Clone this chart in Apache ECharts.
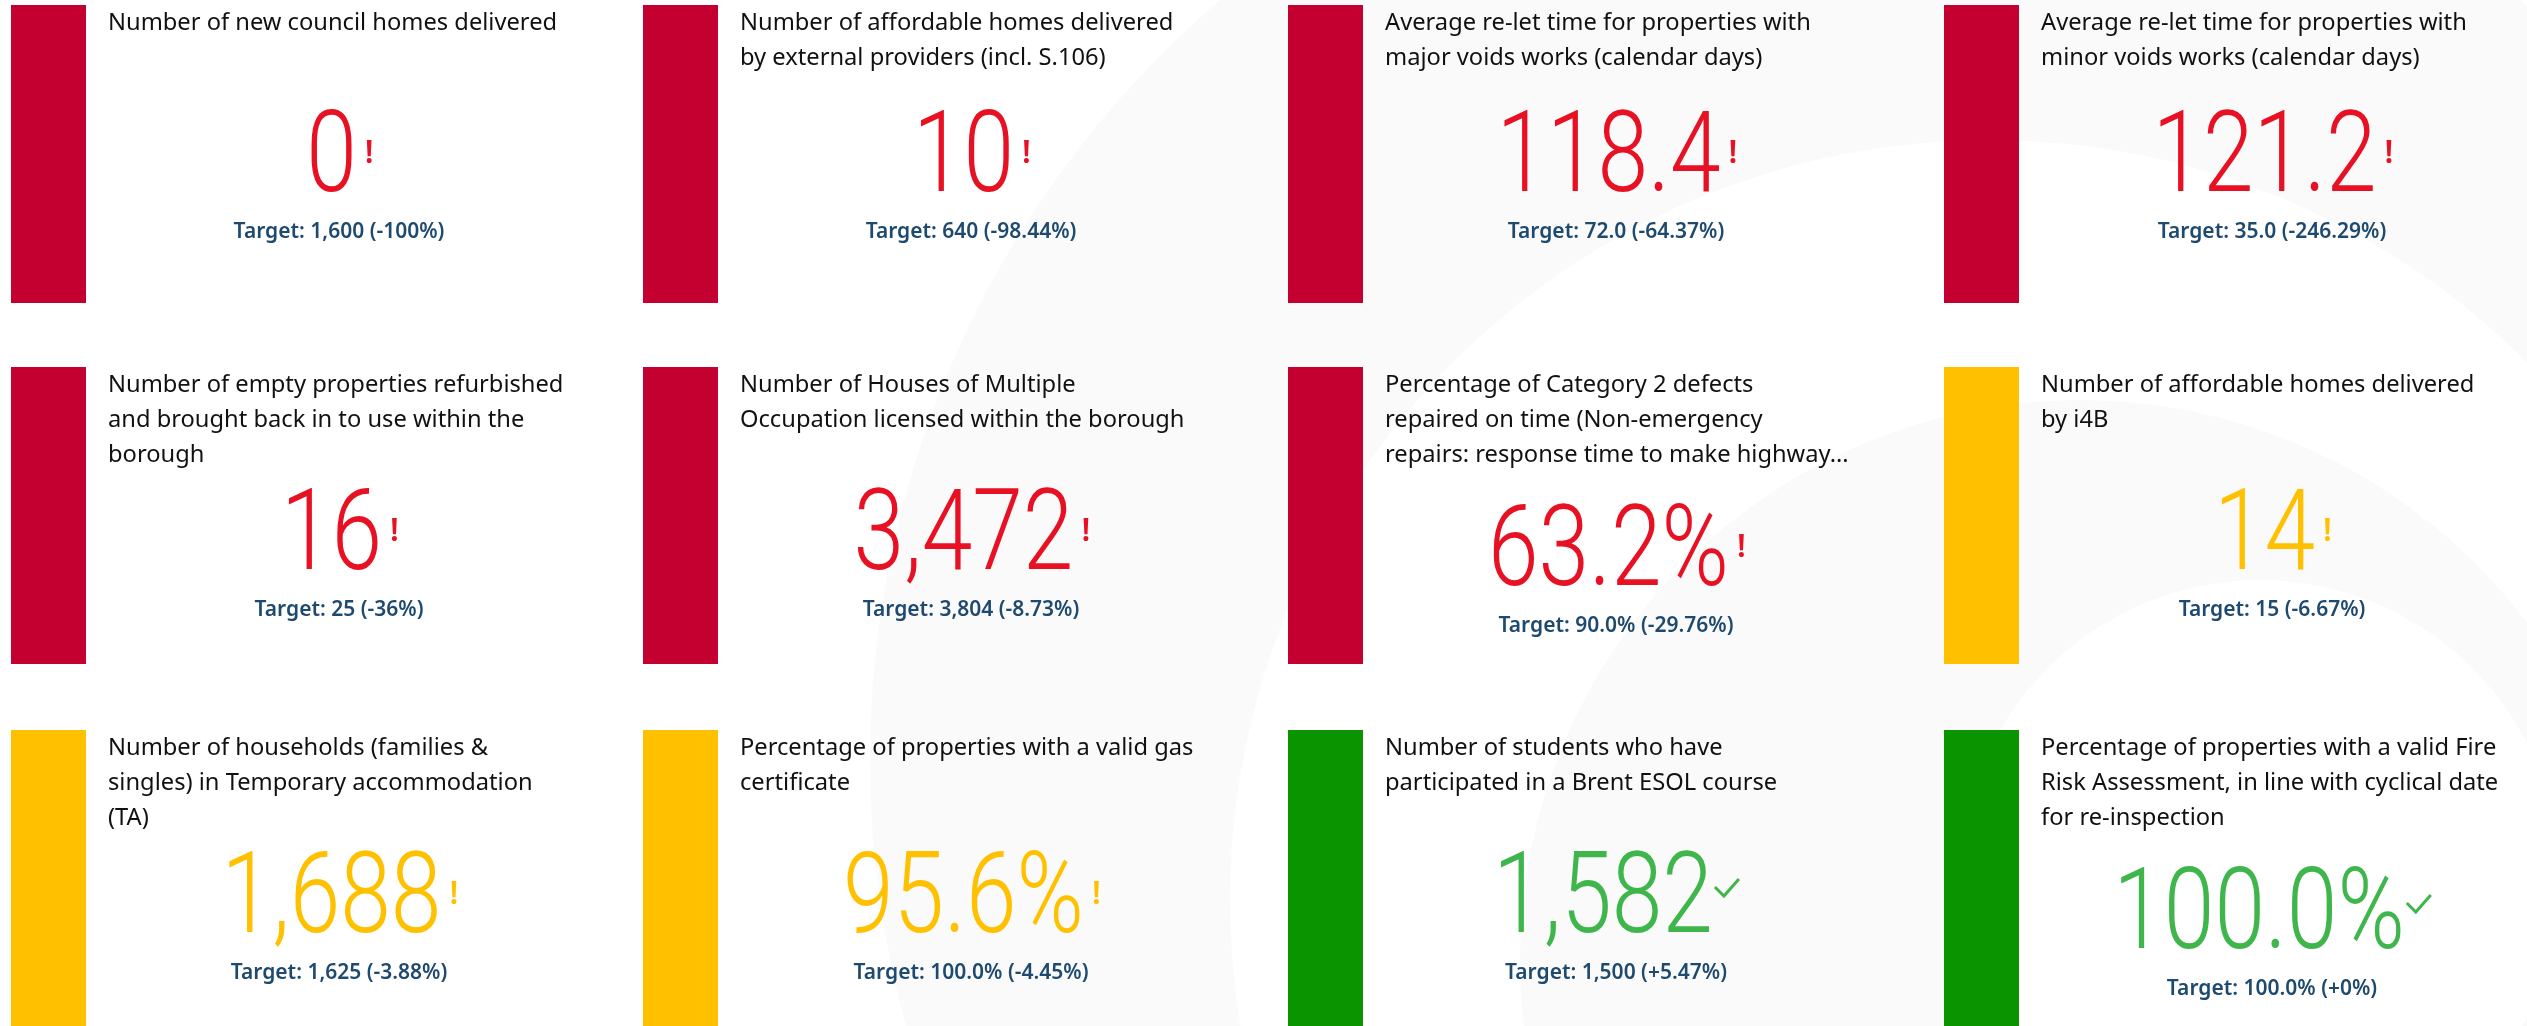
<!DOCTYPE html>
<html>
<head>
<meta charset="utf-8">
<script src="https://cdn.jsdelivr.net/npm/echarts@6/dist/echarts.min.js"></script>
<style>
  html, body { margin: 0; padding: 0; background: #fff; }
  #main { width: 2527px; height: 1026px; }
</style>
</head>
<body>
<div id="main"></div>
<script>
  // KPI cards, read left to right, top to bottom
  var titles = [
    'Number of new council homes delivered',
    'Number of affordable homes delivered\nby external providers (incl. S.106)',
    'Average re-let time for properties with\nmajor voids works (calendar days)',
    'Average re-let time for properties with\nminor voids works (calendar days)',
    'Number of empty properties refurbished\nand brought back in to use within the\nborough',
    'Number of Houses of Multiple\nOccupation licensed within the borough',
    'Percentage of Category 2 defects\nrepaired on time (Non-emergency\nrepairs: response time to make highway...',
    'Number of affordable homes delivered\nby i4B',
    'Number of households (families &\nsingles) in Temporary accommodation\n(TA)',
    'Percentage of properties with a valid gas\ncertificate',
    'Number of students who have\nparticipated in a Brent ESOL course',
    'Percentage of properties with a valid Fire\nRisk Assessment, in line with cyclical date\nfor re-inspection'
  ]
  var values = [0, 10, 118.4, 121.2, 16, 3472, 63.2, 14, 1688, 95.6, 1582, 100.0]
  var targetValues = [1600, 640, 72.0, 35.0, 25, 3804, 90.0, 15, 1625, 100.0, 1500, 100.0]
  var decimals = [0, 0, 1, 1, 0, 0, 1, 0, 0, 1, 0, 1]
  var units = ['', '', '', '', '', '', '%', '', '', '%', '', '%']
  var variances = ['-100%', '-98.44%', '-64.37%', '-246.29%', '-36%', '-8.73%', '-29.76%', '-6.67%', '-3.88%', '-4.45%', '+5.47%', '+0%']
  var statuses = ['red', 'red', 'red', 'red', 'red', 'red', 'red', 'amber', 'amber', 'amber', 'green', 'green']

  var statusStyle = {
    red: { bar: '#c40031', num: '#e81123' },
    amber: { bar: '#ffc000', num: '#ffc000' },
    green: { bar: '#0a9400', num: '#3fb64b' }
  }

  // layout
  var colX = [11, 643, 1288, 1944]
  var rowY = [5, 367, 730]
  var barW = 75
  var barH = [298, 297, 296]
  var titleDx = 97
  var centerDx = 328
  var valueY = [150, 166, 166]
  var valueShift = [0, 0, 0, 0, 0, 0, 16, 0, 0, 0, 0, 16]
  var numFont = '300 114px Roboto'
  var numScale = 0.8

  var mctx = document.createElement('canvas').getContext('2d')
  function textWidth (str, font) {
    mctx.font = font
    return mctx.measureText(str).width
  }
  function fmt (v, d) {
    return v.toLocaleString('en-US', { minimumFractionDigits: d, maximumFractionDigits: d })
  }

  var elements = []

  // faint watermark behind the cards
  elements.push({ type: 'circle', silent: true, z: -10, shape: { cx: 1870, cy: 760, r: 1000 }, style: { fill: '#fafafa' } })
  elements.push({ type: 'circle', silent: true, z: -9, shape: { cx: 1990, cy: 900, r: 760 }, style: { fill: '#fff' } })
  elements.push({ type: 'circle', silent: true, z: -8, shape: { cx: 2080, cy: 960, r: 560 }, style: { fill: '#fafafa' } })
  elements.push({ type: 'circle', silent: true, z: -7, shape: { cx: 2260, cy: 880, r: 300 }, style: { fill: '#fff' } })

  titles.forEach(function (t, i) {
    var col = i % 4
    var row = Math.floor(i / 4)
    var x0 = colX[col]
    var y0 = rowY[row]
    var st = statusStyle[statuses[i]]
    var cx = x0 + centerDx
    var vy = y0 + valueY[row] + valueShift[i]

    elements.push({
      type: 'rect', silent: true,
      shape: { x: x0, y: y0, width: barW, height: barH[row] },
      style: { fill: st.bar }
    })
    elements.push({
      type: 'text', silent: true, x: x0 + titleDx, y: y0 + 1,
      style: { text: t, font: '400 23.7px "Noto Sans"', fill: '#111', lineHeight: 35, align: 'left', verticalAlign: 'top' }
    })

    var label = fmt(values[i], decimals[i]) + units[i]
    var numW = textWidth(label, numFont) * numScale
    var good = statuses[i] === 'green'
    var iconW = good ? 26 : 15
    var left = cx - (numW + iconW) / 2
    elements.push({
      type: 'text', silent: true, x: left, y: vy + 7, scaleX: numScale, originX: 0,
      style: { text: label, font: numFont, fill: st.num, align: 'left', verticalAlign: 'middle' }
    })
    if (good) {
      var ix = left + numW + 2
      elements.push({
        type: 'polyline', silent: true,
        shape: { points: [[ix, vy - 9], [ix + 9, vy], [ix + 24, vy - 17]] },
        style: { stroke: st.num, lineWidth: 3, fill: null }
      })
    } else {
      elements.push({
        type: 'text', silent: true, x: left + numW + 8, y: vy - 1,
        style: { text: '!', font: '600 32px "Noto Sans"', fill: st.num, align: 'left', verticalAlign: 'middle' }
      })
    }

    elements.push({
      type: 'text', silent: true, x: cx, y: vy + 77,
      style: {
        text: 'Target: ' + fmt(targetValues[i], decimals[i]) + units[i] + ' (' + variances[i] + ')',
        font: '600 21px "Noto Sans"', fill: '#1f4a70', align: 'center', verticalAlign: 'middle'
      }
    })
  })

  var chart = echarts.init(document.getElementById('main'))
  chart.setOption({
    backgroundColor: '#fff',
    animation: false,
    graphic: { elements: elements }
  })
</script>
</body>
</html>
